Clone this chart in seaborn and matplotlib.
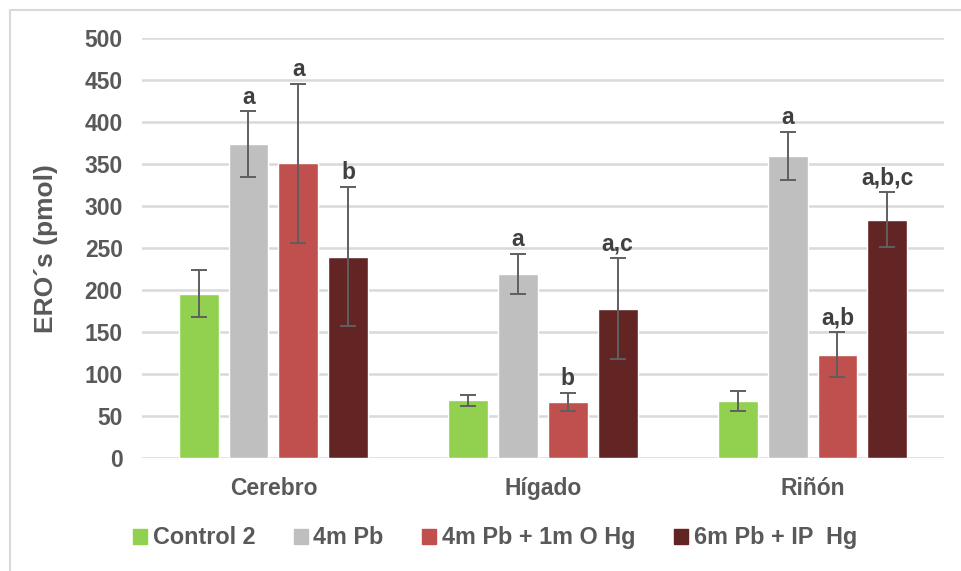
import pandas as pd
import seaborn as sns
import matplotlib.pyplot as plt
from matplotlib.patches import Rectangle

tejidos = ["Cerebro", "Hígado", "Riñón"]
grupos = ["Control 2", "4m Pb", "4m Pb + 1m O Hg", "6m Pb + IP  Hg"]
colores = ["#92D050", "#BFBFBF", "#C0504D", "#632523"]

control_2 = [196, 69, 68]
pb_4m = [374, 219, 360]
pb_4m_hg_o = [351, 67, 123]
pb_6m_hg_ip = [240, 178, 284]

err_control_2 = [28, 6.5, 12]
err_pb_4m = [39, 24, 28.5]
err_pb_4m_hg_o = [95, 10.5, 27]
err_pb_6m_hg_ip = [83, 60, 33]

letras_control_2 = ["", "", ""]
letras_pb_4m = ["a", "a", "a"]
letras_pb_4m_hg_o = ["a", "b", "a,b"]
letras_pb_6m_hg_ip = ["b", "a,c", "a,b,c"]

valores = [control_2, pb_4m, pb_4m_hg_o, pb_6m_hg_ip]
errores = [err_control_2, err_pb_4m, err_pb_4m_hg_o, err_pb_6m_hg_ip]
letras = [letras_control_2, letras_pb_4m, letras_pb_4m_hg_o, letras_pb_6m_hg_ip]

df = pd.DataFrame([
    {"tejido": t, "grupo": g, "valor": v}
    for g, vals in zip(grupos, valores)
    for t, v in zip(tejidos, vals)
])

sns.set_style("white")
plt.rcParams["font.family"] = ["Liberation Sans", "DejaVu Sans"]
plt.rcParams["font.weight"] = "bold"

gris = "#595959"

fig = plt.figure(figsize=(9.61, 5.71), dpi=100)
ax = fig.add_axes([0.148, 0.198, 0.834, 0.7346])

sns.barplot(data=df, x="tejido", y="valor", hue="grupo", order=tejidos,
            hue_order=grupos, palette=colores, width=0.74, gap=0.2,
            errorbar=None, saturation=1, ax=ax, zorder=2)

for cont, errs, labs in zip(ax.containers, errores, letras):
    for bar, e, lab in zip(cont, errs, labs):
        x = bar.get_x() + bar.get_width() / 2
        h = bar.get_height()
        ax.errorbar(x, h, yerr=e, fmt="none", ecolor="#5F5F5F", elinewidth=1.4,
                    capsize=6, capthick=1.4, zorder=3)
        if lab:
            ax.annotate(lab, (x, h + e), xytext=(0, 2), textcoords="offset points",
                        ha="center", va="bottom", fontsize=16.5,
                        fontweight="bold", color="#404040")

ax.set_ylim(0, 500)
ax.set_yticks(range(0, 501, 50))
ax.yaxis.grid(True, color="#D9D9D9", linewidth=1.8, zorder=0)
ax.set_axisbelow(True)
sns.despine(ax=ax, left=True, bottom=True, top=True, right=True)
ax.tick_params(axis="both", length=0, labelsize=16.5, labelcolor=gris)
ax.tick_params(axis="x", pad=14)
ax.tick_params(axis="y", pad=14)
for lbl in ax.get_xticklabels() + ax.get_yticklabels():
    lbl.set_fontweight("bold")

ax.set_xlabel("")
ax.set_ylabel("ERO´s (pmol)", fontsize=19, fontweight="bold", color=gris)
ax.yaxis.set_label_coords(-0.105, 0.5)

ax.legend_.remove()
handles = [Rectangle((0, 0), 1, 1, color=c) for c in colores]
fig.legend(handles, grupos, loc="center", bbox_to_anchor=(0.515, 0.058), ncol=4,
           frameon=False, handlelength=0.6, handleheight=0.6,
           handletextpad=0.25, columnspacing=1.65, labelcolor=gris,
           prop={"weight": "bold", "size": 16.8})

# marco del grafico
fig.add_artist(plt.Line2D([9.5 / 961, 9.5 / 961], [0, 1 - 9.5 / 571],
                          color="#D9D9D9", linewidth=1.5))
fig.add_artist(plt.Line2D([9.5 / 961, 1], [1 - 9.5 / 571, 1 - 9.5 / 571],
                          color="#D9D9D9", linewidth=1.5))

fig.savefig("out.png", dpi=100, facecolor="white")
